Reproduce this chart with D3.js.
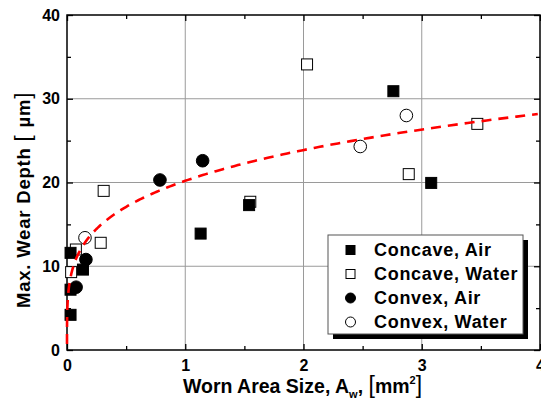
<!DOCTYPE html>
<html>
<head>
<meta charset="utf-8">
<script src="https://cdn.jsdelivr.net/npm/d3@7"></script>
<style>
  html, body { margin: 0; padding: 0; background: #fff; }
  svg { display: block; font-family: "Liberation Sans", Arial, sans-serif; }
</style>
</head>
<body>
<svg id="chart" width="541" height="399"></svg>
<script>
// Data: [worn area (mm^2), max wear depth (um)]
const concaveAir = [[0.03, 4.2], [0.03, 7.2], [0.03, 11.6], [0.135, 9.6], [1.13, 13.9], [1.54, 17.3], [2.76, 30.9], [3.08, 19.95]];
const concaveWater = [[0.035, 9.3], [0.075, 12.0], [0.285, 12.8], [0.31, 19.0], [1.55, 17.7], [2.03, 34.1], [2.89, 21.0], [3.47, 27.0]];
const convexAir = [[0.077, 7.5], [0.16, 10.8], [0.786, 20.3], [1.147, 22.6]];
const convexWater = [[0.152, 13.4], [2.48, 24.3], [2.87, 28.0]];

const xTicks = [0, 1, 2, 3, 4];
const yTicks = [0, 10, 20, 30, 40];
const legendLabels = ["Concave, Air", "Concave, Water", "Convex, Air", "Convex, Water"];

// power-law fit drawn as the dashed red curve: depth = a * area^b
const fitA = 20.2;
const fitB = 0.241;

const svg = d3.select("#chart");
const margin = { left: 67, top: 15, right: 1, bottom: 49 };
const W = 541, H = 399;

const x = d3.scaleLinear().domain([0, 4]).range([margin.left, W - margin.right]);
const y = d3.scaleLinear().domain([0, 40]).range([H - margin.bottom, margin.top]);

// grid
const grid = svg.append("g").attr("stroke", "#9a9a9a").attr("stroke-width", 1);
grid.selectAll(".gx").data(xTicks.slice(1, -1)).join("line")
  .attr("x1", d => x(d)).attr("x2", d => x(d))
  .attr("y1", y(0)).attr("y2", y(40));
grid.selectAll(".gy").data(yTicks.slice(1, -1)).join("line")
  .attr("x1", x(0)).attr("x2", x(4))
  .attr("y1", d => y(d)).attr("y2", d => y(d));

// axes: ticks point inward, on all four sides
const minorX = d3.range(0.5, 4, 1);
const minorY = d3.range(5, 40, 10);

function tickGroup(axis, transform) {
  const g = svg.append("g").attr("transform", transform).call(axis);
  g.select(".domain").remove();
  g.selectAll("line").attr("stroke", "#000").attr("stroke-width", 1.3);
  return g;
}

tickGroup(d3.axisBottom(x).tickValues(xTicks).tickSize(-6).tickPadding(10).tickFormat(d3.format("d")), `translate(0,${y(0)})`);
tickGroup(d3.axisBottom(x).tickValues(minorX).tickSize(-4).tickFormat(""), `translate(0,${y(0)})`);
tickGroup(d3.axisTop(x).tickValues(xTicks).tickSize(-6).tickFormat(""), `translate(0,${y(40)})`);
tickGroup(d3.axisTop(x).tickValues(minorX).tickSize(-4).tickFormat(""), `translate(0,${y(40)})`);

tickGroup(d3.axisLeft(y).tickValues(yTicks).tickSize(-6).tickPadding(7).tickFormat(d3.format("d")), `translate(${x(0)},0)`);
tickGroup(d3.axisLeft(y).tickValues(minorY).tickSize(-4).tickFormat(""), `translate(${x(0)},0)`);
tickGroup(d3.axisRight(y).tickValues(yTicks).tickSize(-6).tickFormat(""), `translate(${x(4)},0)`);
tickGroup(d3.axisRight(y).tickValues(minorY).tickSize(-4).tickFormat(""), `translate(${x(4)},0)`);

svg.selectAll(".tick text")
  .style("font-family", "'Liberation Sans', Arial, sans-serif")
  .attr("font-size", 16).attr("font-weight", "bold").attr("fill", "#000");

// frame
svg.append("rect")
  .attr("x", x(0)).attr("y", y(40))
  .attr("width", x(4) - x(0)).attr("height", y(0) - y(40))
  .attr("fill", "none").attr("stroke", "#000").attr("stroke-width", 1.5);

// markers
const plot = svg.append("g");
const sq = 11, r = 6.3;

function squares(data, fill) {
  plot.append("g").selectAll("rect").data(data).join("rect")
    .attr("x", d => x(d[0]) - sq / 2).attr("y", d => y(d[1]) - sq / 2)
    .attr("width", sq).attr("height", sq)
    .attr("fill", fill).attr("stroke", "#000").attr("stroke-width", 1);
}
function circles(data, fill) {
  plot.append("g").selectAll("circle").data(data).join("circle")
    .attr("cx", d => x(d[0])).attr("cy", d => y(d[1])).attr("r", r)
    .attr("fill", fill).attr("stroke", "#000").attr("stroke-width", 1);
}

squares(concaveWater, "#fff");
circles(convexWater, "#fff");
squares(concaveAir, "#000");
circles(convexAir, "#000");

// fit curve
const fitX = d3.range(-6, 0.6021, 0.01).map(e => Math.pow(10, e));
const line = d3.line().x(d => x(d)).y(d => y(fitA * Math.pow(d, fitB)));
svg.append("path")
  .datum(fitX)
  .attr("d", line)
  .attr("fill", "none")
  .attr("stroke", "#ff0000")
  .attr("stroke-width", 2.6)
  .attr("stroke-dasharray", "10,7");

// axis titles (measured, then centred where the reference puts them)
const xTitle = svg.append("text")
  .attr("x", 0).attr("y", 393)
  .attr("font-size", 19.5).attr("font-weight", "bold");
xTitle.append("tspan").text("Worn Area Size, A");
xTitle.append("tspan").attr("font-size", 11).attr("dy", 5).text("w");
xTitle.append("tspan").attr("dy", -5).text(", ");
xTitle.append("tspan").attr("font-weight", "normal").attr("font-size", 23).text("[");
xTitle.append("tspan").text("mm");
xTitle.append("tspan").attr("font-size", 11).attr("dy", -9).text("2");
xTitle.append("tspan").attr("dy", 9).attr("font-weight", "normal").attr("font-size", 23).text("]");
const xb = xTitle.node().getBBox();
xTitle.attr("x", 302.5 - xb.width / 2);

const yTitle = svg.append("text")
  .attr("font-size", 18.5).attr("font-weight", "bold")
  .attr("letter-spacing", 0.8);
yTitle.append("tspan").text("Max. Wear Depth ");
yTitle.append("tspan").attr("font-weight", "normal").attr("font-size", 22).text("[ ");
yTitle.append("tspan").text("\u00b5m");
yTitle.append("tspan").attr("font-weight", "normal").attr("font-size", 22).text("]");
const yb = yTitle.node().getBBox();
yTitle.attr("transform", `translate(30,${200 + yb.width / 2}) rotate(-90)`);

// legend
const lg = svg.append("g").attr("transform", "translate(328,235)");
lg.append("rect").attr("x", 5).attr("y", 5).attr("width", 195).attr("height", 99).attr("fill", "#000");
lg.append("rect").attr("width", 195).attr("height", 99).attr("fill", "#fff").attr("stroke", "#555").attr("stroke-width", 1);

const kinds = [
  { shape: "square", fill: "#000" },
  { shape: "square", fill: "#fff" },
  { shape: "circle", fill: "#000" },
  { shape: "circle", fill: "#fff" }
];
const rows = lg.selectAll(".row").data(legendLabels).join("g")
  .attr("transform", (d, i) => `translate(0,${15 + i * 24})`);
rows.each(function (d, i) {
  const g = d3.select(this);
  if (kinds[i].shape === "square") {
    g.append("rect").attr("x", 18).attr("y", -4.5).attr("width", 9).attr("height", 9)
      .attr("fill", kinds[i].fill).attr("stroke", "#000").attr("stroke-width", 1);
  } else {
    g.append("circle").attr("cx", 22.5).attr("cy", 0).attr("r", 5)
      .attr("fill", kinds[i].fill).attr("stroke", "#000").attr("stroke-width", 1);
  }
});
rows.append("text")
  .attr("x", 46).attr("y", 0).attr("dy", "0.36em")
  .attr("font-size", 18).attr("font-weight", "bold")
  .attr("letter-spacing", 0.7)
  .text(d => d);
</script>
</body>
</html>
